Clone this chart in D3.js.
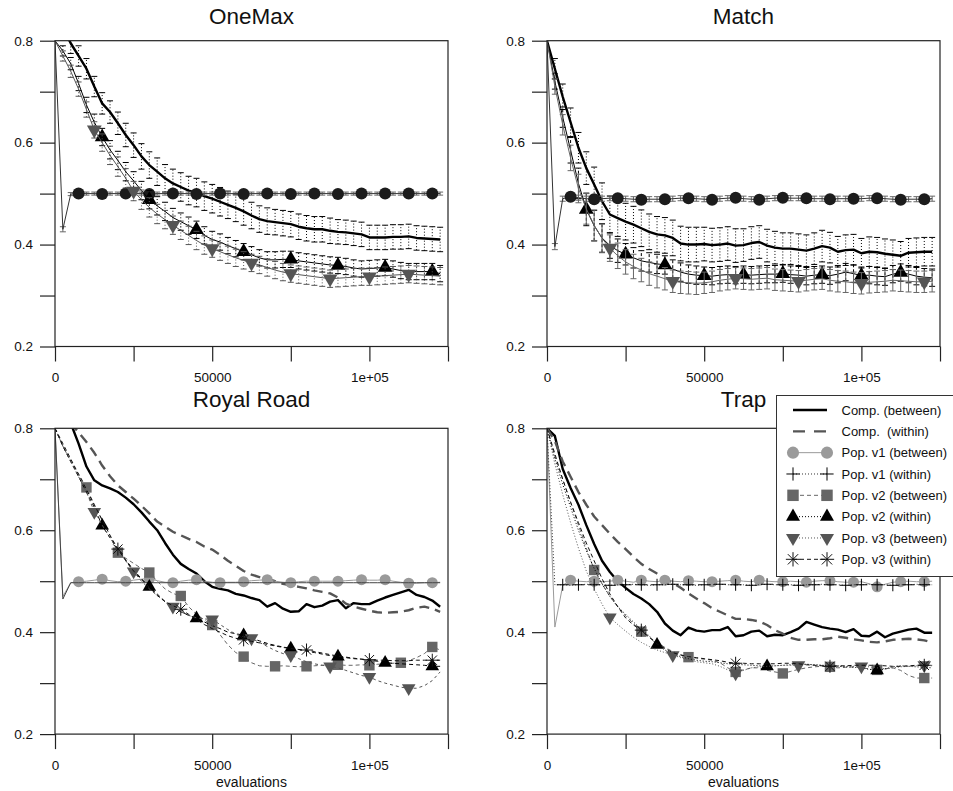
<!DOCTYPE html>
<html lang="en">
<head>
<meta charset="UTF-8">
<title>Diversity over evaluations</title>
<style>
  body { margin: 0; background: #fff; }
  svg text { font-family: "Liberation Sans", Arial, Helvetica, sans-serif; fill: #111; }
  .legend-label { white-space: pre; }
</style>
</head>
<body>
<div id="chart"></div>
<script src="https://d3js.org/d3.v7.min.js"></script>
<script>

// ---------------------------//
//       DATA                 //
// ---------------------------//

// every series is sampled each 2500 evaluations, from 0 to 122500
var evalStep = 2500;

var xTicks = [0, 25000, 50000, 75000, 100000, 125000];
var xTickLabels = ["0", "", "50000", "", "1e+05", ""];
var yTicks = [0.2, 0.3, 0.4, 0.5, 0.6, 0.7, 0.8];
var yTickLabels = ["0.2", "", "0.4", "", "0.6", "", "0.8"];

var titles = ["OneMax", "Match", "Royal Road", "Trap"];

// OneMax
var omCompB = [0.86,0.825,0.795,0.77,0.745,0.71,0.677,0.66,0.638,0.615,
  0.595,0.573,0.556,0.543,0.53,0.52,0.513,0.506,0.502,0.495,
  0.49,0.484,0.478,0.472,0.465,0.457,0.45,0.446,0.444,0.442,
  0.44,0.435,0.432,0.43,0.43,0.427,0.425,0.424,0.422,0.42,
  0.414,0.414,0.414,0.415,0.415,0.416,0.413,0.412,0.411,0.41];
var omCompBErr = [0,.02,.02,.02,.02,.02,.021,.022,.022,.023,
  .024,.025,.026,.027,.027,.028,.028,.028,.028,.028,
  .028,.028,.027,.027,.027,.026,.026,.026,.025,.025,
  .025,.025,.025,.025,.025,.025,.024,.024,.024,.024,
  .024,.024,.024,.024,.024,.024,.024,.024,.024,.024];
var omV1B = [0.8,0.43,0.499,0.5,0.5,0.5,0.499,0.5,0.5,0.5,
  0.5,0.5,0.499,0.5,0.5,0.5,0.5,0.5,0.499,0.5,
  0.5,0.5,0.5,0.5,0.499,0.5,0.5,0.5,0.5,0.5,
  0.499,0.5,0.5,0.5,0.5,0.5,0.499,0.5,0.5,0.5,
  0.5,0.5,0.5,0.5,0.5,0.5,0.5,0.5,0.5,0.5];
var omV1BErr = [0,.005,.003,.003,.003,.003,.003,.003,.003,.003,
  .003,.003,.003,.003,.003,.003,.003,.003,.003,.003,
  .003,.003,.003,.003,.003,.003,.003,.003,.003,.003,
  .003,.003,.003,.003,.003,.003,.003,.003,.003,.003,
  .003,.003,.003,.003,.003,.003,.003,.003,.003,.003];
var omV2W = [0.8,0.78,0.755,0.716,0.674,0.64,0.611,0.586,0.565,0.543,
  0.525,0.506,0.488,0.476,0.465,0.453,0.445,0.437,0.429,0.418,
  0.41,0.405,0.398,0.392,0.386,0.38,0.374,0.37,0.37,0.371,
  0.371,0.368,0.366,0.364,0.362,0.36,0.359,0.357,0.354,0.352,
  0.353,0.354,0.355,0.352,0.349,0.347,0.347,0.347,0.347,0.343];
var omV2WErr = [0,.01,.012,.014,.015,.016,.017,.018,.018,.018,
  .018,.018,.018,.018,.018,.018,.017,.017,.017,.017,
  .016,.016,.016,.016,.016,.016,.016,.016,.016,.016,
  .016,.016,.016,.016,.016,.016,.016,.016,.016,.016,
  .016,.016,.016,.016,.016,.016,.016,.016,.016,.016];
var omV3B = [0.8,0.77,0.74,0.705,0.665,0.625,0.6,0.575,0.553,0.53,
  0.505,0.488,0.473,0.46,0.449,0.438,0.428,0.418,0.408,0.399,
  0.392,0.386,0.38,0.374,0.369,0.364,0.36,0.355,0.35,0.346,
  0.343,0.341,0.339,0.337,0.335,0.333,0.334,0.335,0.336,0.337,
  0.337,0.338,0.339,0.34,0.341,0.342,0.341,0.34,0.339,0.338];
var omV3BErr = [0,.01,.012,.014,.015,.016,.017,.018,.019,.019,
  .019,.019,.019,.019,.018,.018,.018,.018,.018,.018,
  .017,.017,.017,.017,.017,.017,.017,.017,.017,.017,
  .017,.017,.017,.017,.017,.017,.017,.017,.017,.017,
  .017,.017,.017,.017,.017,.017,.017,.017,.017,.017];

// Match
var mtCompB = [0.8,0.745,0.69,0.64,0.59,0.55,0.518,0.485,0.459,0.452,
  0.445,0.439,0.432,0.425,0.42,0.418,0.413,0.402,0.4,0.4,
  0.401,0.399,0.4,0.402,0.398,0.399,0.403,0.405,0.398,0.394,
  0.392,0.392,0.39,0.388,0.392,0.397,0.394,0.386,0.389,0.39,
  0.383,0.386,0.385,0.382,0.38,0.378,0.384,0.385,0.386,0.386];
var mtCompBErr = [0,.02,.025,.028,.03,.032,.034,.036,.036,.036,
  .036,.036,.036,.035,.035,.035,.035,.034,.034,.034,
  .033,.033,.033,.033,.033,.032,.032,.032,.032,.032,
  .031,.031,.031,.031,.031,.031,.03,.03,.03,.03,
  .029,.029,.029,.029,.029,.028,.028,.028,.028,.028];
var mtV1B = [0.8,0.396,0.49,0.494,0.492,0.49,0.489,0.49,0.491,0.491,
  0.49,0.489,0.488,0.489,0.489,0.489,0.49,0.491,0.491,0.49,
  0.489,0.488,0.49,0.491,0.492,0.49,0.489,0.488,0.49,0.491,
  0.492,0.491,0.491,0.491,0.49,0.49,0.489,0.49,0.49,0.49,
  0.49,0.491,0.491,0.49,0.489,0.488,0.489,0.489,0.489,0.49];
var mtV1BErr = [0,.006,.005,.005,.005,.005,.005,.005,.005,.005,
  .005,.005,.005,.005,.005,.005,.005,.005,.005,.005,
  .005,.005,.005,.005,.005,.005,.005,.005,.005,.005,
  .005,.005,.005,.005,.005,.005,.005,.005,.005,.005,
  .005,.005,.005,.005,.005,.005,.005,.005,.005,.005];
var mtV2W = [0.8,0.72,0.65,0.585,0.52,0.469,0.437,0.413,0.398,0.388,
  0.381,0.374,0.368,0.365,0.362,0.36,0.352,0.346,0.342,0.34,
  0.339,0.338,0.34,0.341,0.34,0.341,0.34,0.341,0.342,0.342,
  0.343,0.341,0.34,0.338,0.34,0.341,0.339,0.342,0.346,0.343,
  0.339,0.34,0.338,0.337,0.342,0.345,0.342,0.338,0.336,0.335];
var mtV2WErr = [0,.015,.02,.025,.03,.032,.03,.028,.025,.023,
  .021,.02,.02,.019,.019,.018,.018,.018,.018,.018,
  .017,.017,.017,.017,.017,.017,.017,.017,.017,.017,
  .017,.017,.017,.017,.017,.017,.017,.017,.017,.017,
  .017,.017,.017,.017,.017,.017,.017,.017,.017,.017];
var mtV3B = [0.8,0.71,0.635,0.57,0.51,0.47,0.438,0.412,0.393,0.378,
  0.366,0.357,0.35,0.343,0.338,0.333,0.328,0.326,0.325,0.324,
  0.325,0.327,0.33,0.332,0.334,0.333,0.332,0.333,0.334,0.331,
  0.33,0.329,0.328,0.33,0.332,0.333,0.33,0.328,0.327,0.325,
  0.324,0.326,0.327,0.328,0.33,0.329,0.328,0.327,0.327,0.328];
var mtV3BErr = [0,.015,.02,.025,.028,.03,.03,.028,.026,.025,
  .024,.024,.023,.023,.023,.022,.022,.022,.022,.022,
  .021,.021,.021,.021,.021,.021,.021,.021,.021,.021,
  .021,.021,.021,.021,.021,.021,.021,.021,.021,.021,
  .021,.021,.021,.021,.021,.021,.021,.021,.021,.021];

// Royal Road
var rrCompB = [0.9,0.855,0.81,0.77,0.725,0.698,0.688,0.682,0.675,0.664,
  0.651,0.635,0.617,0.6,0.575,0.552,0.534,0.524,0.515,0.5,
  0.489,0.485,0.482,0.475,0.472,0.467,0.463,0.45,0.457,0.446,
  0.44,0.441,0.455,0.449,0.452,0.46,0.463,0.447,0.457,0.455,
  0.455,0.462,0.468,0.473,0.478,0.483,0.473,0.469,0.462,0.45];
var rrCompW = [0.9,0.86,0.81,0.792,0.773,0.752,0.727,0.706,0.688,0.675,
  0.662,0.648,0.633,0.617,0.607,0.597,0.59,0.583,0.577,0.568,
  0.562,0.552,0.54,0.53,0.52,0.513,0.508,0.505,0.5,0.495,
  0.492,0.489,0.486,0.482,0.479,0.476,0.468,0.456,0.45,0.446,
  0.442,0.439,0.438,0.439,0.44,0.443,0.448,0.45,0.446,0.44];
var rrV1B = [0.8,0.47,0.497,0.499,0.5,0.502,0.504,0.501,0.499,0.5,
  0.502,0.504,0.505,0.501,0.498,0.497,0.5,0.502,0.503,0.5,
  0.498,0.497,0.498,0.498,0.499,0.501,0.502,0.503,0.5,0.498,
  0.497,0.499,0.5,0.5,0.5,0.5,0.5,0.501,0.502,0.503,
  0.502,0.502,0.503,0.5,0.498,0.496,0.496,0.497,0.497,0.498];
var rrV1W = [0.8,0.465,0.497,0.497,0.497,0.497,0.497,0.497,0.497,0.497,
  0.497,0.497,0.497,0.497,0.497,0.497,0.497,0.497,0.497,0.497,
  0.497,0.497,0.497,0.497,0.497,0.497,0.497,0.497,0.497,0.497,
  0.497,0.497,0.497,0.497,0.497,0.497,0.497,0.497,0.497,0.497,
  0.497,0.497,0.497,0.497,0.497,0.497,0.497,0.497,0.497,0.497];
var rrV2B = [0.8,0.765,0.735,0.71,0.684,0.65,0.62,0.59,0.556,0.545,
  0.535,0.525,0.517,0.5,0.485,0.476,0.471,0.45,0.435,0.424,
  0.414,0.395,0.375,0.36,0.352,0.34,0.334,0.333,0.333,0.334,
  0.333,0.332,0.333,0.334,0.335,0.336,0.336,0.335,0.335,0.336,
  0.335,0.337,0.338,0.339,0.34,0.344,0.35,0.358,0.371,0.365];
var rrV2W = [0.8,0.765,0.735,0.705,0.675,0.645,0.609,0.585,0.563,0.542,
  0.522,0.505,0.489,0.475,0.46,0.448,0.44,0.433,0.427,0.42,
  0.413,0.407,0.4,0.397,0.394,0.388,0.383,0.378,0.374,0.371,
  0.368,0.366,0.363,0.36,0.357,0.354,0.352,0.35,0.348,0.347,
  0.345,0.343,0.34,0.339,0.338,0.337,0.336,0.335,0.333,0.333];
var rrV3B = [0.8,0.765,0.735,0.705,0.675,0.636,0.61,0.585,0.562,0.54,
  0.519,0.5,0.485,0.472,0.46,0.45,0.44,0.433,0.428,0.426,
  0.425,0.415,0.405,0.396,0.391,0.388,0.38,0.372,0.364,0.358,
  0.355,0.348,0.342,0.338,0.335,0.333,0.33,0.325,0.32,0.315,
  0.312,0.305,0.3,0.296,0.292,0.29,0.29,0.295,0.305,0.322];
var rrV3W = [0.8,0.77,0.74,0.71,0.68,0.65,0.62,0.59,0.563,0.54,
  0.52,0.503,0.488,0.472,0.46,0.452,0.445,0.435,0.425,0.415,
  0.407,0.4,0.393,0.388,0.385,0.382,0.379,0.376,0.373,0.37,
  0.368,0.366,0.365,0.362,0.359,0.356,0.353,0.351,0.349,0.347,
  0.346,0.345,0.345,0.344,0.344,0.344,0.345,0.345,0.345,0.345];

// Trap
var tpCompB = [0.8,0.785,0.72,0.683,0.65,0.61,0.573,0.54,0.518,0.5,
  0.487,0.475,0.466,0.455,0.44,0.417,0.403,0.394,0.409,0.403,
  0.401,0.404,0.404,0.41,0.392,0.394,0.401,0.403,0.392,0.395,
  0.394,0.4,0.407,0.42,0.415,0.41,0.407,0.405,0.4,0.406,
  0.393,0.392,0.401,0.39,0.397,0.401,0.405,0.407,0.399,0.399];
var tpCompW = [0.8,0.775,0.735,0.705,0.675,0.65,0.627,0.61,0.593,0.577,
  0.563,0.548,0.534,0.524,0.515,0.507,0.497,0.487,0.476,0.466,
  0.457,0.447,0.44,0.433,0.426,0.426,0.424,0.421,0.414,0.404,
  0.397,0.389,0.385,0.385,0.386,0.386,0.388,0.391,0.389,0.386,
  0.384,0.381,0.38,0.382,0.385,0.386,0.387,0.386,0.384,0.38];
var tpV1B = [0.8,0.41,0.492,0.502,0.5,0.499,0.5,0.499,0.5,0.502,
  0.5,0.498,0.502,0.5,0.499,0.502,0.5,0.499,0.501,0.5,
  0.499,0.499,0.5,0.501,0.502,0.5,0.499,0.502,0.5,0.499,
  0.499,0.5,0.499,0.498,0.5,0.501,0.501,0.499,0.498,0.498,
  0.499,0.495,0.489,0.494,0.498,0.499,0.5,0.499,0.499,0.5];
var tpV1W = [0.8,0.493,0.493,0.492,0.493,0.494,0.493,0.493,0.492,0.493,
  0.493,0.494,0.493,0.492,0.493,0.493,0.494,0.493,0.493,0.492,
  0.493,0.493,0.494,0.493,0.493,0.493,0.492,0.493,0.494,0.493,
  0.493,0.493,0.492,0.493,0.493,0.494,0.493,0.493,0.492,0.493,
  0.493,0.494,0.493,0.493,0.492,0.493,0.493,0.494,0.493,0.493];
var tpV2B = [0.8,0.745,0.7,0.655,0.61,0.565,0.522,0.495,0.47,0.45,
  0.432,0.417,0.401,0.39,0.38,0.37,0.362,0.356,0.351,0.349,
  0.347,0.345,0.34,0.33,0.322,0.326,0.33,0.33,0.325,0.322,
  0.319,0.323,0.327,0.33,0.332,0.333,0.332,0.33,0.331,0.332,
  0.33,0.328,0.326,0.328,0.33,0.325,0.315,0.31,0.31,0.31];
var tpV2W = [0.8,0.74,0.69,0.645,0.6,0.56,0.525,0.495,0.47,0.45,
  0.435,0.42,0.405,0.393,0.375,0.365,0.358,0.352,0.348,0.345,
  0.343,0.342,0.34,0.338,0.337,0.336,0.335,0.334,0.333,0.334,
  0.335,0.336,0.337,0.337,0.336,0.335,0.334,0.333,0.332,0.331,
  0.33,0.327,0.325,0.328,0.332,0.334,0.333,0.332,0.331,0.33];
var tpV3B = [0.8,0.73,0.67,0.615,0.565,0.52,0.485,0.455,0.429,0.415,
  0.402,0.39,0.38,0.372,0.365,0.36,0.355,0.35,0.346,0.342,
  0.34,0.338,0.333,0.326,0.319,0.325,0.33,0.332,0.333,0.334,
  0.335,0.335,0.335,0.337,0.336,0.335,0.334,0.334,0.333,0.333,
  0.333,0.332,0.33,0.328,0.33,0.332,0.333,0.334,0.335,0.334];
var tpV3W = [0.8,0.75,0.7,0.655,0.615,0.575,0.54,0.505,0.475,0.45,
  0.428,0.414,0.404,0.39,0.377,0.368,0.36,0.355,0.352,0.35,
  0.348,0.346,0.344,0.341,0.339,0.339,0.338,0.338,0.338,0.338,
  0.339,0.339,0.338,0.336,0.335,0.334,0.333,0.334,0.334,0.335,
  0.335,0.335,0.335,0.334,0.333,0.333,0.334,0.335,0.335,0.335];

var legendLabels = ["Comp. (between)", "Comp.  (within)", "Pop. v1 (between)", "Pop. v1 (within)",
  "Pop. v2 (between)", "Pop. v2 (within)", "Pop. v3 (between)", "Pop. v3 (within)"];
var legendRoles = ["compB", "compW", "v1B", "v1W", "v2B", "v2W", "v3B", "v3W"];

// ---------------------------//
//       STYLES               //
// ---------------------------//

var styles = {
  compB: { stroke: "#000", width: 2.4, dash: null, shape: null },
  compW: { stroke: "#555", width: 2.4, dash: "10,6", shape: null },
  v1B:   { stroke: "#9a9a9a", width: 1, dash: null, shape: "circle", fill: "#9a9a9a", size: 5.5 },
  v1W:   { stroke: "#333", width: 1, dash: "1,2", shape: "plus", fill: "#000", size: 6 },
  v2B:   { stroke: "#666", width: 1, dash: "4,3", shape: "square", fill: "#666", size: 5.2 },
  v2W:   { stroke: "#000", width: 1, dash: "1,2", shape: "triUp", fill: "#000", size: 80 },
  v3B:   { stroke: "#555", width: 1, dash: "1,2", shape: "triDown", fill: "#555", size: 80 },
  v3W:   { stroke: "#111", width: 1, dash: "4,3", shape: "asterisk", fill: "#111", size: 6.5 }
};

// upper panels draw their population series solid and darker
var topCircle = { stroke: "#333", fill: "#1c1c1c", size: 6, errStroke: "#666", errDash: null };
var topTriUp = { dash: null, size: 95, errStroke: "#000", errDash: "1,2" };
var topTriDown = { dash: null, size: 95, errStroke: "#555", errDash: "1,2" };
var compErr = { errStroke: "#000", errDash: "1,2" };

var panels = [
  { title: titles[0], left: 55, top: 40.7, titleY: 24, xlabel: false, series: [
      { role: "compB", values: omCompB, err: omCompBErr, style: compErr },
      { role: "v1B", values: omV1B, err: omV1BErr, mark: [3, 3], style: topCircle },
      { role: "v2W", values: omV2W, err: omV2WErr, mark: [6, 6], style: topTriUp },
      { role: "v3B", values: omV3B, err: omV3BErr, mark: [5, 5], style: topTriDown } ] },
  { title: titles[1], left: 547, top: 40.7, titleY: 24, xlabel: false, series: [
      { role: "compB", values: mtCompB, err: mtCompBErr, style: compErr },
      { role: "v1B", values: mtV1B, err: mtV1BErr, mark: [3, 3], style: topCircle },
      { role: "v2W", values: mtV2W, err: mtV2WErr, mark: [5, 5], style: Object.assign({}, topTriUp, { errDash: "3,2" }) },
      { role: "v3B", values: mtV3B, err: mtV3BErr, mark: [8, 8], style: Object.assign({}, topTriDown, { errStroke: "#666", errDash: null, stroke: "#666" }) } ] },
  { title: titles[2], left: 55, top: 428.3, titleY: 407, xlabel: true, series: [
      { role: "compB", values: rrCompB },
      { role: "compW", values: rrCompW },
      { role: "v1B", values: rrV1B, mark: [3, 3] },
      { role: "v1W", values: rrV1W, style: { stroke: "#444", dash: null } },
      { role: "v2B", values: rrV2B, mark: [4, 4] },
      { role: "v2W", values: rrV2W, mark: [6, 6], style: { dash: "4,3" } },
      { role: "v3B", values: rrV3B, mark: [5, 5], style: { dash: "3,3" } },
      { role: "v3W", values: rrV3W, mark: [8, 8] } ] },
  { title: titles[3], left: 547, top: 428.3, titleY: 407, xlabel: true, series: [
      { role: "compB", values: tpCompB },
      { role: "compW", values: tpCompW },
      { role: "v1B", values: tpV1B, mark: [3, 3] },
      { role: "v1W", values: tpV1W, mark: [2, 2] },
      { role: "v2B", values: tpV2B, mark: [6, 6] },
      { role: "v2W", values: tpV2W, mark: [14, 14] },
      { role: "v3B", values: tpV3B, mark: [8, 8] },
      { role: "v3W", values: tpV3W, mark: [12, 12] } ] }
];

var plotWidth = 393, plotHeight = 305.8;

var svg = d3.select("#chart")
  .append("svg")
    .attr("width", 953)
    .attr("height", 791);

// draw one marker centred on (cx, cy)
function drawMarker(g, st, cx, cy) {
  var s = st.size;
  if (st.shape === "circle") {
    g.append("circle").attr("cx", cx).attr("cy", cy).attr("r", s).attr("fill", st.fill);
  } else if (st.shape === "square") {
    g.append("rect").attr("x", cx - s).attr("y", cy - s)
      .attr("width", 2 * s).attr("height", 2 * s).attr("fill", st.fill);
  } else if (st.shape === "triUp" || st.shape === "triDown") {
    g.append("path")
      .attr("d", d3.symbol(d3.symbolTriangle, s)())
      .attr("transform", "translate(" + cx + "," + cy + ")" + (st.shape === "triDown" ? " rotate(180)" : ""))
      .attr("fill", st.fill);
  } else if (st.shape === "plus") {
    g.append("path")
      .attr("d", "M" + (cx - s) + "," + cy + "H" + (cx + s) + "M" + cx + "," + (cy - s) + "V" + (cy + s))
      .attr("stroke", st.fill).attr("stroke-width", 1).attr("fill", "none");
  } else if (st.shape === "asterisk") {
    var d = s * 0.72;
    g.append("path")
      .attr("d", "M" + (cx - s) + "," + cy + "H" + (cx + s) + "M" + cx + "," + (cy - s) + "V" + (cy + s) +
                 "M" + (cx - d) + "," + (cy - d) + "L" + (cx + d) + "," + (cy + d) +
                 "M" + (cx - d) + "," + (cy + d) + "L" + (cx + d) + "," + (cy - d))
      .attr("stroke", st.fill).attr("stroke-width", 1).attr("fill", "none");
  }
}

panels.forEach(function(p, pi) {
  var right = p.left + plotWidth, bottom = p.top + plotHeight;

  var x = d3.scaleLinear().domain([0, 125000]).range([p.left, right]);
  var y = d3.scaleLinear().domain([0.2, 0.8]).range([bottom, p.top]);

  // title
  svg.append("text")
    .attr("x", (p.left + right) / 2)
    .attr("y", p.titleY)
    .attr("text-anchor", "middle")
    .style("font-size", "22.5px")
    .text(p.title);

  // clip area = plot box
  svg.append("clipPath").attr("id", "clip" + pi)
    .append("rect")
      .attr("x", p.left).attr("y", p.top)
      .attr("width", plotWidth).attr("height", plotHeight);

  var plot = svg.append("g").attr("clip-path", "url(#clip" + pi + ")");

  var line = d3.line()
    .x(function(d) { return x(d[0]); })
    .y(function(d) { return y(d[1]); });

  p.series.forEach(function(s) {
    var st = Object.assign({}, styles[s.role], s.style || {});
    var pts = s.values.map(function(v, i) { return [i * evalStep, v]; });

    // error bars
    if (s.err) {
      var eg = plot.append("g").attr("stroke", st.errStroke).attr("stroke-width", 1);
      pts.forEach(function(d, i) {
        var e = s.err[i];
        if (!e) return;
        var px = x(d[0]), y0 = y(d[1] - e), y1 = y(d[1] + e);
        eg.append("line").attr("x1", px).attr("x2", px).attr("y1", y0).attr("y2", y1)
          .attr("stroke-dasharray", st.errDash);
        eg.append("line").attr("x1", px - 3).attr("x2", px + 3).attr("y1", y0).attr("y2", y0);
        eg.append("line").attr("x1", px - 3).attr("x2", px + 3).attr("y1", y1).attr("y2", y1);
      });
    }

    plot.append("path")
      .datum(pts)
      .attr("d", line)
      .attr("fill", "none")
      .attr("stroke", st.stroke)
      .attr("stroke-width", st.width)
      .attr("stroke-dasharray", st.dash)
      .attr("stroke-linejoin", "round");

    if (s.mark) {
      var mg = plot.append("g");
      pts.forEach(function(d, i) {
        if (i >= s.mark[0] && (i - s.mark[0]) % s.mark[1] === 0) {
          drawMarker(mg, st, x(d[0]), y(d[1]));
        }
      });
    }
  });

  // box
  svg.append("rect")
    .attr("x", p.left).attr("y", p.top)
    .attr("width", plotWidth).attr("height", plotHeight)
    .attr("fill", "none").attr("stroke", "#222").attr("stroke-width", 1.2);

  // axes
  var yAxis = svg.append("g")
    .attr("transform", "translate(" + p.left + ",0)")
    .call(d3.axisLeft(y).tickValues(yTicks)
      .tickFormat(function(d, i) { return yTickLabels[i]; })
      .tickSize(15).tickPadding(7));
  var xAxis = svg.append("g")
    .attr("transform", "translate(0," + bottom + ")")
    .call(d3.axisBottom(x).tickValues(xTicks)
      .tickFormat(function(d, i) { return xTickLabels[i]; })
      .tickSize(15).tickPadding(11));
  [yAxis, xAxis].forEach(function(a) {
    a.select(".domain").remove();
    a.selectAll("line").attr("stroke", "#222").attr("stroke-width", 1.2);
    a.selectAll("text").style("font-size", "13.5px").attr("fill", "#111")
      .style("font-family", "'Liberation Sans', Arial, Helvetica, sans-serif");
  });

  if (p.xlabel) {
    svg.append("text")
      .attr("x", (p.left + right) / 2)
      .attr("y", 787)
      .attr("text-anchor", "middle")
      .style("font-size", "14px")
      .text("evaluations");
  }
});

// ---------------------------//
//       LEGEND               //
// ---------------------------//

var legend = svg.append("g");
legend.append("rect")
  .attr("x", 776.5).attr("y", 395.5)
  .attr("width", 200).attr("height", 181)
  .attr("fill", "#fff").attr("stroke", "#333").attr("stroke-width", 1);

legendRoles.forEach(function(role, i) {
  var st = styles[role];
  var ly = 410 + i * 21.33;
  legend.append("line")
    .attr("x1", 793).attr("x2", 827).attr("y1", ly).attr("y2", ly)
    .attr("stroke", st.stroke).attr("stroke-width", st.width)
    .attr("stroke-dasharray", role === "compW" ? "12,9" : st.dash);
  if (st.shape) {
    var big = Object.assign({}, st, { size: st.shape.indexOf("tri") === 0 ? 85 : st.size * 1.1 });
    drawMarker(legend, big, 793, ly);
    drawMarker(legend, big, 827, ly);
  }
  legend.append("text")
    .attr("class", "legend-label")
    .attr("x", 841.5).attr("y", ly)
    .attr("dy", "0.35em")
    .style("font-size", "13px")
    .text(legendLabels[i]);
});

</script>
</body>
</html>
